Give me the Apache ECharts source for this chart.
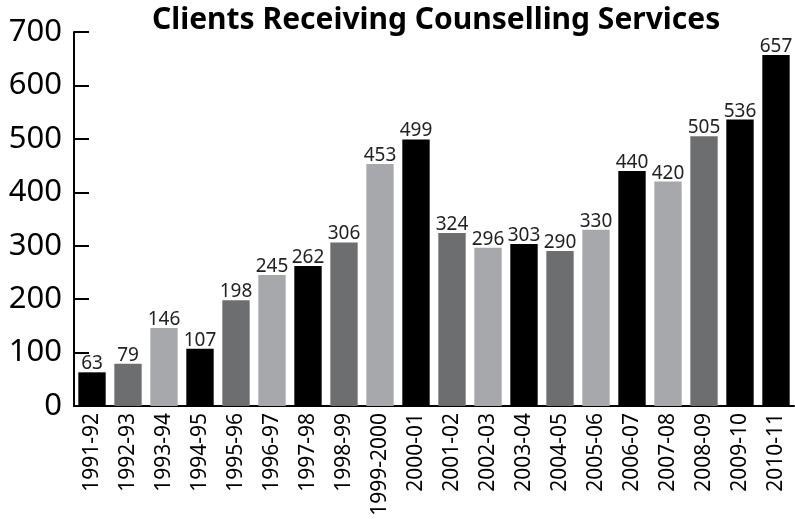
<!DOCTYPE html>
<html>
<head>
<meta charset="utf-8">
<script src="https://cdn.jsdelivr.net/npm/echarts@6/dist/echarts.min.js"></script>
<style>
  html, body { margin: 0; padding: 0; background: #fff; }
  #main { width: 795px; height: 519px; }
</style>
</head>
<body>
<div id="main"></div>
<script>
var years = ['1991-92', '1992-93', '1993-94', '1994-95', '1995-96', '1996-97', '1997-98',
  '1998-99', '1999-2000', '2000-01', '2001-02', '2002-03', '2003-04', '2004-05',
  '2005-06', '2006-07', '2007-08', '2008-09', '2009-10', '2010-11'];
var clients = [63, 79, 146, 107, 198, 245, 262, 306, 453, 499, 324, 296, 303, 290, 330, 440, 420, 505, 536, 657];
// which shade each bar gets: 0 black, 1 dark gray, 2 light gray
var shade = [0, 1, 2, 0, 1, 2, 0, 1, 2, 0, 1, 2, 0, 1, 2, 0, 2, 1, 0, 0];
var shadeColors = ['#000000', '#6d6e70', '#a7a8ab'];

var chartDom = document.getElementById('main');
var myChart = echarts.init(chartDom);
var font = 'Noto Sans';

var option = {
  animation: false,
  textStyle: { fontFamily: font },
  title: {
    text: 'Clients Receiving Counselling Services',
    left: 147,
    top: 0,
    textStyle: { fontSize: 30, fontWeight: 'bold', color: '#000', fontFamily: font }
  },
  grid: { left: 74, right: 1, top: 32, bottom: 113, containLabel: false },
  xAxis: {
    type: 'category',
    data: years,
    axisLine: { lineStyle: { color: '#000', width: 2 } },
    axisTick: { inside: true, length: 6, lineStyle: { color: '#000', width: 2 } },
    axisLabel: { rotate: 90, fontSize: 21, color: '#000', margin: 7, interval: 0 }
  },
  yAxis: {
    type: 'value',
    min: 0,
    max: 700,
    interval: 100,
    splitLine: { show: false },
    axisLine: { show: true, lineStyle: { color: '#000', width: 2 } },
    axisTick: { show: true, inside: true, length: 15, lineStyle: { color: '#000', width: 2 } },
    axisLabel: { fontSize: 31, color: '#000', margin: 12 }
  },
  series: [{
    type: 'bar',
    barWidth: '76%',
    data: clients.map(function (v, i) {
      return { value: v, itemStyle: { color: shadeColors[shade[i]] } };
    }),
    label: {
      show: true,
      position: 'top',
      distance: -1,
      fontSize: 19,
      color: '#222',
      fontFamily: font
    }
  }]
};

option && myChart.setOption(option);
</script>
</body>
</html>
